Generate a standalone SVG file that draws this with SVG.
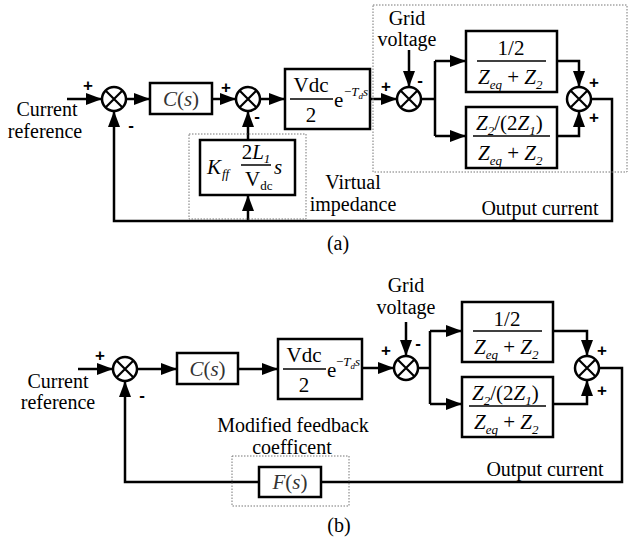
<svg xmlns="http://www.w3.org/2000/svg" width="628" height="545" viewBox="0 0 628 545">
<style>
.ln{fill:none;stroke:#000;stroke-width:2.5}
.ar{fill:none;stroke:#000;stroke-width:2.5;marker-end:url(#ah)}
.bx{fill:#fff;stroke:#000;stroke-width:2.5}
.dot{fill:none;stroke:#777;stroke-width:1;stroke-dasharray:1.5 1.5}
.sj{fill:#fff;stroke:#000;stroke-width:2.5}
.fr{stroke:#000;stroke-width:1.5}
text{font-family:"Liberation Serif","Times New Roman",serif;fill:#000}
.lb{font-size:20px}
.m{font-size:21px}
.i{font-style:italic}
.sub{font-size:13px;font-style:italic}
.sg{font-family:"Liberation Sans",Arial,sans-serif;font-weight:bold;font-size:17px}
.g{fill:#333}
</style>
<defs>
<marker id="ah" markerUnits="userSpaceOnUse" markerWidth="16" markerHeight="12" refX="16" refY="6" orient="auto">
<path d="M0,0 L16,6 L0,12 z" fill="#000"/>
</marker>
<g id="x">
<circle r="12" class="sj"/>
<path d="M-8.5,-8.5 L8.5,8.5 M-8.5,8.5 L8.5,-8.5" class="ln" style="stroke-width:2.2"/>
</g>
</defs>

<!-- ============ (a) ============ -->
<g id="connectors-a">
<path class="ar" d="M67,99 H102"/>
<path class="ar" d="M126,99 H150"/>
<path class="ar" d="M212,99 H236"/>
<path class="ar" d="M260,99 H285"/>
<path class="ar" d="M370,99 H397"/>
<path class="ar" d="M409,50 V87"/>
<path class="ln" d="M421,99 H435"/>
<path class="ln" d="M435,61 V136"/>
<path class="ar" d="M435,61 H466"/>
<path class="ar" d="M435,136 H466"/>
<path class="ar" d="M557,61 H579 V87"/>
<path class="ar" d="M557,136 H579 V111"/>
<path class="ar" d="M591,99 H612 V221 H114 V111"/>
<path class="ar" d="M248,221 V195"/>
<path class="ar" d="M248,140 V111"/>
</g>

<g id="sum1a"><use href="#x" x="114" y="99"/></g>
<g id="sum2a"><use href="#x" x="248" y="99"/></g>
<g id="sum3a"><use href="#x" x="409" y="99"/></g>
<g id="sum4a"><use href="#x" x="579" y="99"/></g>

<g id="signs-a">
<text class="sg" x="88" y="91" text-anchor="middle">+</text>
<text class="sg" x="131" y="131" text-anchor="middle">-</text>
<text class="sg" x="226" y="93" text-anchor="middle">+</text>
<text class="sg" x="257" y="122" text-anchor="middle">-</text>
<text class="sg" x="386" y="92" text-anchor="middle">+</text>
<text class="sg" x="420" y="86" text-anchor="middle">-</text>
<text class="sg" x="594" y="88" text-anchor="middle">+</text>
<text class="sg" x="594" y="123" text-anchor="middle">+</text>
</g>

<g id="ref-a">
<text class="lb" x="47" y="116" text-anchor="middle">Current</text>
<text class="lb" x="45" y="138" text-anchor="middle">reference</text>
</g>

<g id="cs-a">
<rect class="bx" x="150" y="83" width="62" height="31"/>
<text class="m g" x="181" y="106" text-anchor="middle"><tspan class="i">C</tspan>(<tspan class="i">s</tspan>)</text>
</g>

<g id="plant-a">
<rect class="bx" x="285" y="69" width="85" height="60"/>
<text class="m" x="311" y="92" text-anchor="middle">Vdc</text>
<line class="fr" x1="290" y1="99" x2="333" y2="99"/>
<text class="m" x="311" y="122" text-anchor="middle">2</text>
<text class="m" x="334" y="107">e</text>
<text x="344" y="96" font-size="13">−<tspan class="i">T</tspan><tspan class="i" font-size="9" dy="3">d</tspan><tspan class="i" dy="-3">s</tspan></text>
</g>

<g id="grid-a">
<text class="lb" x="407" y="25" text-anchor="middle">Grid</text>
<text class="lb" x="407" y="46" text-anchor="middle">voltage</text>
</g>

<g id="g1-a">
<rect class="bx" x="466" y="31" width="91" height="61"/>
<text class="m" x="511" y="55" text-anchor="middle">1/2</text>
<line class="fr" x1="477" y1="61" x2="546" y2="61"/>
<text class="m" x="478" y="84"><tspan class="i">Z</tspan><tspan class="sub" dy="5">eq</tspan><tspan dy="-5"> + </tspan><tspan class="i">Z</tspan><tspan class="sub" dy="5">2</tspan></text>
</g>

<g id="g2-a">
<rect class="bx" x="466" y="107" width="91" height="61"/>
<text class="m" x="476" y="130"><tspan class="i">Z</tspan><tspan class="sub" dy="5">2</tspan><tspan dy="-5">/(2</tspan><tspan class="i">Z</tspan><tspan class="sub" dy="5">1</tspan><tspan dy="-5">)</tspan></text>
<line class="fr" x1="473" y1="136" x2="550" y2="136"/>
<text class="m" x="478" y="160"><tspan class="i">Z</tspan><tspan class="sub" dy="5">eq</tspan><tspan dy="-5"> + </tspan><tspan class="i">Z</tspan><tspan class="sub" dy="5">2</tspan></text>
</g>

<g id="vimp-a">
<rect class="dot" x="189" y="134" width="117" height="85"/>
<rect class="bx" x="200" y="140" width="95" height="55"/>
<text class="m i" x="207" y="174" font-size="22">K</text>
<text class="sub" x="222" y="178" font-size="12">ff</text>
<text class="m" x="256" y="159" text-anchor="middle">2<tspan class="i">L</tspan><tspan class="sub" dy="4">1</tspan></text>
<line class="fr" x1="241" y1="165" x2="271" y2="165"/>
<text class="m" x="245" y="186">V<tspan class="sub" style="font-style:normal" dy="4">dc</tspan></text>
<text class="m i" x="274" y="174">s</text>
</g>

<g id="virt-label-a">
<text class="lb" x="353" y="189" text-anchor="middle">Virtual</text>
<text class="lb" x="353" y="211" text-anchor="middle">impedance</text>
</g>

<g id="outbox-a">
<rect class="dot" x="373" y="5" width="254" height="167"/>
</g>

<g id="out-a">
<text class="lb" x="540" y="215" text-anchor="middle" font-size="21">Output current</text>
</g>

<text class="lb" x="338" y="250" text-anchor="middle">(a)</text>

<!-- ============ (b) ============ -->
<g id="connectors-b">
<path class="ar" d="M78,369 H113"/>
<path class="ar" d="M137,369 H177"/>
<path class="ar" d="M238,369 H278"/>
<path class="ar" d="M362,368 H394"/>
<path class="ar" d="M406,322 V356"/>
<path class="ln" d="M418,368 H430"/>
<path class="ln" d="M430,331 V404"/>
<path class="ar" d="M430,331 H462"/>
<path class="ar" d="M430,404 H462"/>
<path class="ar" d="M553,331 H587 V356"/>
<path class="ar" d="M553,404 H587 V380"/>
<path class="ln" d="M599,368 H622 V482 H321"/>
<path class="ar" d="M259,482 H125 V381"/>
</g>

<g id="sum1b"><use href="#x" x="125" y="369"/></g>
<g id="sum2b"><use href="#x" x="406" y="368"/></g>
<g id="sum3b"><use href="#x" x="587" y="368"/></g>

<g id="signs-b">
<text class="sg" x="100" y="361" text-anchor="middle">+</text>
<text class="sg" x="142" y="401" text-anchor="middle">-</text>
<text class="sg" x="386" y="356" text-anchor="middle">+</text>
<text class="sg" x="418" y="349" text-anchor="middle">-</text>
<text class="sg" x="602" y="356" text-anchor="middle">+</text>
<text class="sg" x="602" y="396" text-anchor="middle">+</text>
</g>

<g id="ref-b">
<text class="lb" x="58" y="388" text-anchor="middle">Current</text>
<text class="lb" x="58" y="409" text-anchor="middle">reference</text>
</g>

<g id="cs-b">
<rect class="bx" x="177" y="353" width="61" height="31"/>
<text class="m g" x="207.5" y="376" text-anchor="middle"><tspan class="i">C</tspan>(<tspan class="i">s</tspan>)</text>
</g>

<g id="plant-b">
<rect class="bx" x="278" y="339" width="84" height="60"/>
<text class="m" x="304" y="362" text-anchor="middle">Vdc</text>
<line class="fr" x1="283" y1="369" x2="326" y2="369"/>
<text class="m" x="304" y="392" text-anchor="middle">2</text>
<text class="m" x="327" y="377">e</text>
<text x="336" y="366" font-size="13">−<tspan class="i">T</tspan><tspan class="i" font-size="9" dy="3">d</tspan><tspan class="i" dy="-3">s</tspan></text>
</g>

<g id="grid-b">
<text class="lb" x="406" y="292" text-anchor="middle">Grid</text>
<text class="lb" x="406" y="314" text-anchor="middle">voltage</text>
</g>

<g id="g1-b">
<rect class="bx" x="462" y="302" width="91" height="60"/>
<text class="m" x="507" y="326" text-anchor="middle">1/2</text>
<line class="fr" x1="473" y1="331" x2="542" y2="331"/>
<text class="m" x="474" y="354"><tspan class="i">Z</tspan><tspan class="sub" dy="5">eq</tspan><tspan dy="-5"> + </tspan><tspan class="i">Z</tspan><tspan class="sub" dy="5">2</tspan></text>
</g>

<g id="g2-b">
<rect class="bx" x="462" y="377" width="91" height="60"/>
<text class="m" x="472" y="400"><tspan class="i">Z</tspan><tspan class="sub" dy="5">2</tspan><tspan dy="-5">/(2</tspan><tspan class="i">Z</tspan><tspan class="sub" dy="5">1</tspan><tspan dy="-5">)</tspan></text>
<line class="fr" x1="469" y1="406" x2="546" y2="406"/>
<text class="m" x="474" y="429"><tspan class="i">Z</tspan><tspan class="sub" dy="5">eq</tspan><tspan dy="-5"> + </tspan><tspan class="i">Z</tspan><tspan class="sub" dy="5">2</tspan></text>
</g>

<g id="fs-b">
<rect class="dot" x="232" y="456" width="117" height="50"/>
<rect class="bx" x="259" y="467" width="62" height="30"/>
<text class="m g" x="290" y="489" text-anchor="middle"><tspan class="i">F</tspan>(<tspan class="i">s</tspan>)</text>
</g>

<g id="mod-label-b">
<text class="lb" x="293" y="432" text-anchor="middle">Modified feedback</text>
<text class="lb" x="292" y="454" text-anchor="middle">coefficent</text>
</g>

<g id="out-b">
<text class="lb" x="545" y="476" text-anchor="middle" font-size="21">Output current</text>
</g>

<text class="lb" x="339" y="532" text-anchor="middle">(b)</text>
</svg>
